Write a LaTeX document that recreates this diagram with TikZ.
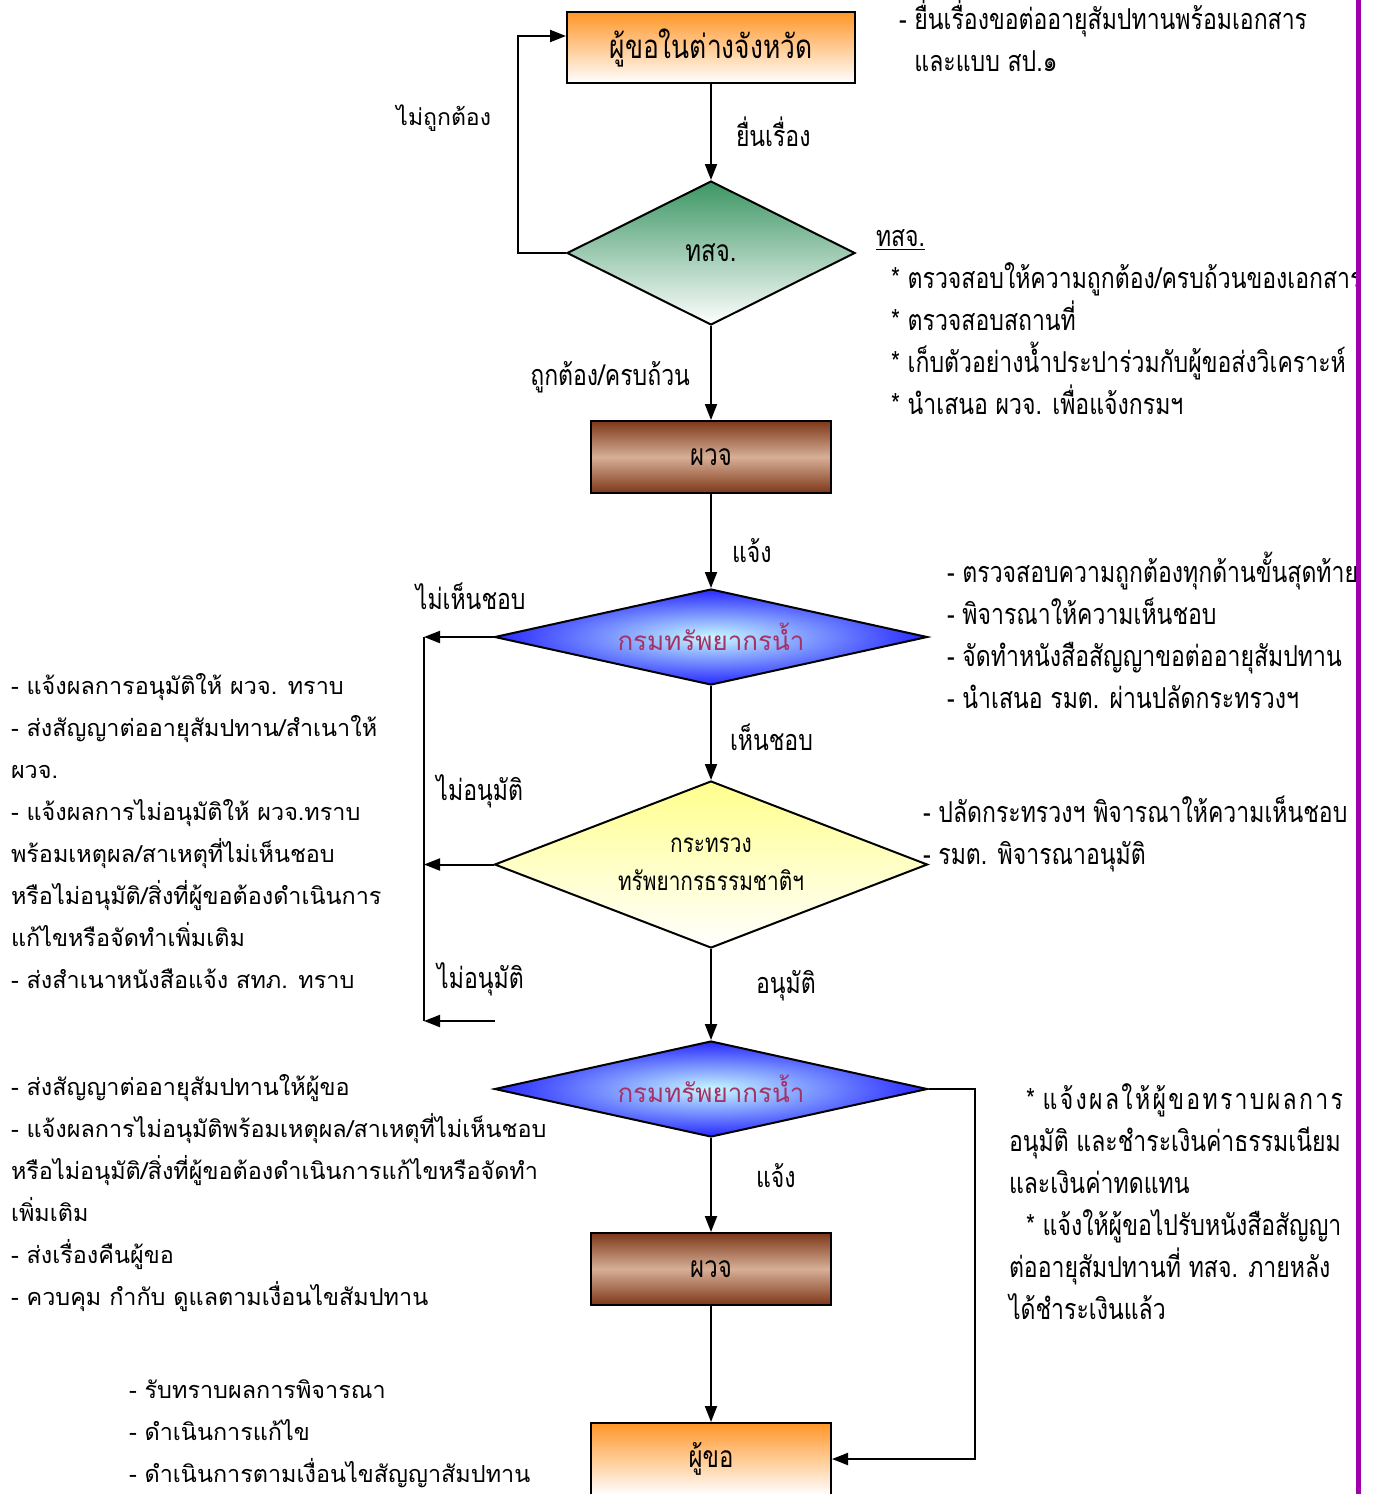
\documentclass[tikz,border=0pt]{standalone}
\usepackage{fontspec}
\newfontfamily\thai[Script=Thai]{Loma}
\newfontfamily\thaic[Script=Thai,FakeStretch=0.8]{Loma}
\usetikzlibrary{arrows.meta,shapes.geometric}
\definecolor{orng}{RGB}{255,150,40}
\definecolor{grn}{RGB}{60,150,100}
\definecolor{brdark}{RGB}{125,55,25}
\definecolor{brlight}{RGB}{215,175,150}
\definecolor{bluout}{RGB}{40,40,255}
\definecolor{bluin}{RGB}{200,250,255}
\definecolor{yel}{RGB}{255,255,140}
\definecolor{wtext}{RGB}{165,50,100}
\definecolor{vline}{RGB}{160,0,170}

\begin{document}
\begin{tikzpicture}[x=0.5pt,y=-0.5pt,>={Triangle[length=8pt,width=6pt]},line width=1pt,
    box/.style={draw,rectangle,minimum width=120pt,minimum height=36pt,inner sep=0pt,
      font=\thaic\fontsize{15}{16}\selectfont},
    choice/.style={draw,diamond,inner sep=0pt,font=\thaic\fontsize{15}{16}\selectfont},
    note/.style={anchor=base west,align=left,inner sep=0pt,font=\thaic\fontsize{14.4}{21}\selectfont},
    lnote/.style={note,font=\thai\fontsize{11.7}{21}\selectfont},
    lbl/.style={inner sep=0pt,font=\thaic\fontsize{14.4}{16}\selectfont}]
    \useasboundingbox (0,0) rectangle (1373,1494);

    \node[box, minimum width=144pt, minimum height=35.5pt, top color=orng, bottom color=white, font=\thaic\fontsize{16.5}{18}\selectfont] (1) at (711,47.5) {ผู้ขอในต่างจังหวัด};
    \node[choice, aspect=2, minimum width=144pt, minimum height=72pt, top color=grn, bottom color=white] (2) [node distance=102.75pt, below of=1] {ทสจ.};
    \node[box, top color=brdark, bottom color=brdark, middle color=brlight] (3) [node distance=102pt, below of=2] {ผวจ};
    \node[choice, aspect=4.5, minimum width=216.5pt, minimum height=48pt, inner color=bluin, outer color=bluout, text=wtext, font=\thai\fontsize{13}{16}\selectfont] (4) [node distance=90pt, below of=3] {กรมทรัพยากรน้ำ};
    \node[choice, aspect=2.6, minimum width=216.5pt, minimum height=83.5pt, top color=yel, bottom color=white, align=center, font=\thaic\fontsize{13}{19}\selectfont] (5) [node distance=113.75pt, below of=4] {กระทรวง\\ทรัพยากรธรรมชาติฯ};
    \node[choice, aspect=4.5, minimum width=216.5pt, minimum height=48pt, inner color=bluin, outer color=bluout, text=wtext, font=\thai\fontsize{13}{16}\selectfont] (6) [node distance=112.25pt, below of=5] {กรมทรัพยากรน้ำ};
    \node[box, top color=brdark, bottom color=brdark, middle color=brlight] (7) [node distance=90pt, below of=6] {ผวจ};
    \node[box, top color=orng, bottom color=white] (8) [node distance=95pt, below of=7] {ผู้ขอ};

    \coordinate (bus) at (424,0);
    \coordinate (bus2) at (975,0);
    \coordinate (c1) at (495,1021);

    \path[->] (1) edge node[lbl, right=12pt] {ยื่นเรื่อง} (2);
    \path[->] (2) edge node[lbl, pos=0.55, left=10pt] {ถูกต้อง/ครบถ้วน} (3);
    \path[->] (3) edge node[lbl, pos=0.6, right=10pt] {แจ้ง} (4);
    \path[->] (4) edge node[lbl, pos=0.55, right=9pt] {เห็นชอบ} (5);
    \path[->] (5) edge node[lbl, pos=0.4, right=22pt] {อนุมัติ} (6);
    \path[->] (6) edge node[lbl, pos=0.4, right=22pt] {แจ้ง} (7);
    \path[->] (7) edge (8);

    \draw[->] (2.west) -- ++(-48,0) |- node[lbl, pos=0.31, left=13pt, font=\thai\fontsize{11.5}{14}\selectfont] {ไม่ถูกต้อง} ([yshift=5.75pt]1.west);
    \draw[->] (4.west) -- node[lbl, above=13pt, xshift=6pt] {ไม่เห็นชอบ} (4.west -| bus);
    \draw[->] (5.west) -- node[lbl, above=28pt, xshift=10.5pt] {ไม่อนุมัติ} (5.west -| bus);
    \draw[->] (c1) -- node[lbl, above=12pt, xshift=10.5pt] {ไม่อนุมัติ} (c1 -| bus);
    \draw (4.west -| bus) -- (c1 -| bus);
    \draw[->] (6.east) -- (6.east -| bus2) |- (8.east);

    % right notes (placed at the baseline of their last line)
    \node[note] (n1) at (898,71) {- ยื่นเรื่องขอต่ออายุสัมปทานพร้อมเอกสาร\\\phantom{- }และแบบ สป.๑};
    \node[note] (n2) at (875,414) {\underline{ทสจ.}\\
      \hspace*{7.5pt}* ตรวจสอบให้ความถูกต้อง/ครบถ้วนของเอกสาร\\
      \hspace*{7.5pt}* ตรวจสอบสถานที่\\
      \hspace*{7.5pt}* เก็บตัวอย่างน้ำประปาร่วมกับผู้ขอส่งวิเคราะห์\\
      \hspace*{7.5pt}* นำเสนอ ผวจ. เพื่อแจ้งกรมฯ};
    \node[note] (n3) at (946,708) {- ตรวจสอบความถูกต้องทุกด้านขั้นสุดท้าย\\
      - พิจารณาให้ความเห็นชอบ\\
      - จัดทำหนังสือสัญญาขอต่ออายุสัมปทาน\\
      - นำเสนอ รมต. ผ่านปลัดกระทรวงฯ};
    \node[note] (n4) at (922,864) {- ปลัดกระทรวงฯ พิจารณาให้ความเห็นชอบ\\
      - รมต. พิจารณาอนุมัติ};
    \node[note] (n5) at (1008,1319) {\hspace*{8.5pt}* {\addfontfeature{LetterSpace=8}แจ้งผลให้ผู้ขอทราบผลการ}\\
      อนุมัติ และชำระเงินค่าธรรมเนียม\\
      และเงินค่าทดแทน\\
      \hspace*{8.5pt}* แจ้งให้ผู้ขอไปรับหนังสือสัญญา\\
      ต่ออายุสัมปทานที่ ทสจ. ภายหลัง\\
      ได้ชำระเงินแล้ว};

    % left notes
    \node[lnote] (m1) at (10,988) {- แจ้งผลการอนุมัติให้ ผวจ. ทราบ\\
      - ส่งสัญญาต่ออายุสัมปทาน/สำเนาให้\\
      ผวจ.\\
      - แจ้งผลการไม่อนุมัติให้ ผวจ.ทราบ\\
      พร้อมเหตุผล/สาเหตุที่ไม่เห็นชอบ\\
      หรือไม่อนุมัติ/สิ่งที่ผู้ขอต้องดำเนินการ\\
      แก้ไขหรือจัดทำเพิ่มเติม\\
      - ส่งสำเนาหนังสือแจ้ง สทภ. ทราบ};
    \node[lnote] (m2) at (10,1305) {- ส่งสัญญาต่ออายุสัมปทานให้ผู้ขอ\\
      - แจ้งผลการไม่อนุมัติพร้อมเหตุผล/สาเหตุที่ไม่เห็นชอบ\\
      หรือไม่อนุมัติ/สิ่งที่ผู้ขอต้องดำเนินการแก้ไขหรือจัดทำ\\
      เพิ่มเติม\\
      - ส่งเรื่องคืนผู้ขอ\\
      - ควบคุม กำกับ ดูแลตามเงื่อนไขสัมปทาน};
    \node[lnote] (m3) at (128,1482) {- รับทราบผลการพิจารณา\\
      - ดำเนินการแก้ไข\\
      - ดำเนินการตามเงื่อนไขสัญญาสัมปทาน};

    \fill[white] (1356,0) rectangle (1373,1494);
    \draw[vline, line width=2.5pt] (1358.5,0) -- (1358.5,1494);
\end{tikzpicture}
\end{document}
